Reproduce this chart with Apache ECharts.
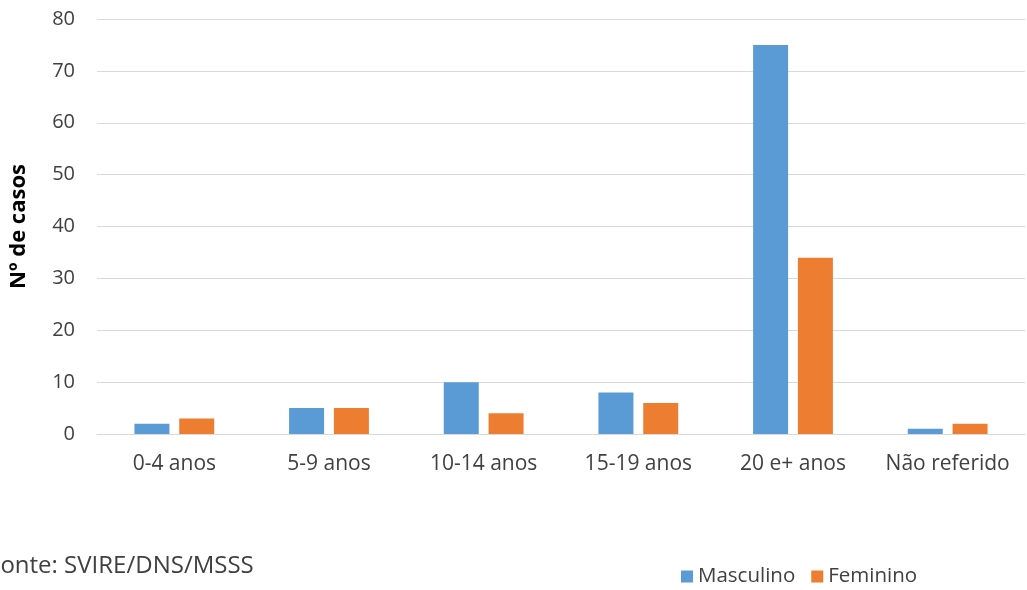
<!DOCTYPE html>
<html>
<head>
<meta charset="utf-8">
<script src="https://cdn.jsdelivr.net/npm/echarts@6/dist/echarts.min.js"></script>
<style>html,body{margin:0;padding:0;background:#fff}#c{width:1027px;height:590px}</style>
</head>
<body>
<div id="c"></div>
<script>
const categories = ['0-4 anos', '5-9 anos', '10-14 anos', '15-19 anos', '20 e+ anos', 'Não referido'];
const masculino = [2, 5, 10, 8, 75, 1];
const feminino = [3, 5, 4, 6, 34, 2];
const yTicks = { min: 0, max: 80, interval: 10 };

const chart = echarts.init(document.getElementById('c'), null, { renderer: 'canvas' });
const font = '"Open Sans", "Liberation Sans", sans-serif';
chart.setOption({
  animation: false,
  textStyle: { fontFamily: font },
  grid: { left: 93, right: 2, top: 19, bottom: 156 },
  legend: {
    left: 676, top: 561,
    itemWidth: 12, itemHeight: 12, itemGap: 16,
    icon: 'rect',
    textStyle: { fontSize: 20.5, color: '#404040', fontFamily: font },
    data: ['Masculino', 'Feminino']
  },
  graphic: [{
    type: 'text', left: -12, top: 554,
    style: { text: 'Fonte: SVIRE/DNS/MSSS', fontSize: 24, fill: '#404040', fontFamily: font }
  }],
  xAxis: {
    type: 'category', data: categories,
    axisLine: { show: true, lineStyle: { color: '#d9d9d9', width: 1 } },
    axisTick: { show: false },
    axisLabel: { fontSize: 21, color: '#404040', margin: 20, interval: 0, hideOverlap: false }
  },
  yAxis: {
    type: 'value', min: yTicks.min, max: yTicks.max, interval: yTicks.interval,
    name: 'Nº de casos', nameLocation: 'middle', nameGap: 67,
    nameTextStyle: { fontSize: 22, fontWeight: 'bold', color: '#000' },
    axisLine: { show: false }, axisTick: { show: false },
    axisLabel: { fontSize: 20, color: '#404040', margin: 22 },
    splitLine: { lineStyle: { color: '#d9d9d9', width: 1 } }
  },
  series: [
    { name: 'Masculino', type: 'bar', data: masculino, barWidth: 35, barGap: '28%', itemStyle: { color: '#5b9bd5' } },
    { name: 'Feminino', type: 'bar', data: feminino, barWidth: 35, barGap: '28%', itemStyle: { color: '#ed7d31' } }
  ]
});
</script>
</body>
</html>
